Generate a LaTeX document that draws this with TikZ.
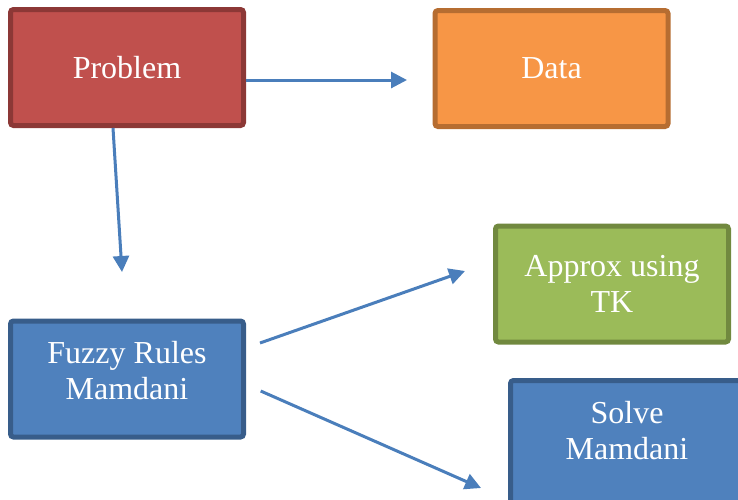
\documentclass[tikz,border=0pt]{standalone}
\usepackage{fontspec}
\setmainfont{Liberation Serif}
\usepackage{tikz}
\usepackage{xcolor}
\usetikzlibrary{arrows.meta, calc, positioning}

\definecolor{redfill}{HTML}{C0504D}
\definecolor{redline}{HTML}{8C3836}
\definecolor{orangefill}{HTML}{F79646}
\definecolor{orangeline}{HTML}{B66D31}
\definecolor{greenfill}{HTML}{9BBB59}
\definecolor{greenline}{HTML}{71893F}
\definecolor{bluefill}{HTML}{4F81BD}
\definecolor{blueline}{HTML}{385D8A}
\definecolor{arrowblue}{HTML}{4A7EBB}

\begin{document}
\begin{tikzpicture}[x=1pt, y=-1pt,
                        box/.style={draw, line width=5pt, rounded corners=3pt, minimum width=233pt, minimum height=116pt,
                            text=white, align=center, font=\fontsize{32}{36}\selectfont},
                        redbox/.style={box, fill=redfill, draw=redline},
                        orangebox/.style={box, fill=orangefill, draw=orangeline},
                        greenbox/.style={box, fill=greenfill, draw=greenline},
                        bluebox/.style={box, fill=bluefill, draw=blueline, text depth=18pt},
                        arr/.style={-{Triangle[length=16pt, width=16pt]}, line width=3pt, draw=arrowblue, fill=arrowblue}]
                        \useasboundingbox (0, 0) rectangle (738, 499);
                        \clip (0, 0) rectangle (738, 499);
                        \node[redbox] (prob) at (127, 67.5) {Problem};
                        \node[orangebox] (data) at (551.5, 68.5) {Data};
                        \node[greenbox] (approx) at (612, 284) {Approx using\\TK};
                        \node[bluebox] (fuzzy) at (127, 379) {Fuzzy Rules\\Mamdani};
                        \node[bluebox, minimum height=128pt, text depth=29pt] (solve) at (627, 444.5) {Solve\\Mamdani};
                        \coordinate (tipdata) at (407, 80);
                        \coordinate (tipfuzzy) at (122, 272);
                        \coordinate (tipapprox) at (465, 271);
                        \coordinate (tipsolve) at (481, 488);
                        \draw[arr] ([yshift=-12.5pt]prob.east) -- (tipdata);
                        \draw[arr] ([xshift=-14pt]prob.south) -- (tipfuzzy);
                        \draw[arr] ([xshift=14pt, yshift=36pt]fuzzy.east) -- (tipapprox);
                        \draw[arr] ([xshift=14.7pt, yshift=-12pt]fuzzy.east) -- (tipsolve);
                    \end{tikzpicture}
\end{document}
